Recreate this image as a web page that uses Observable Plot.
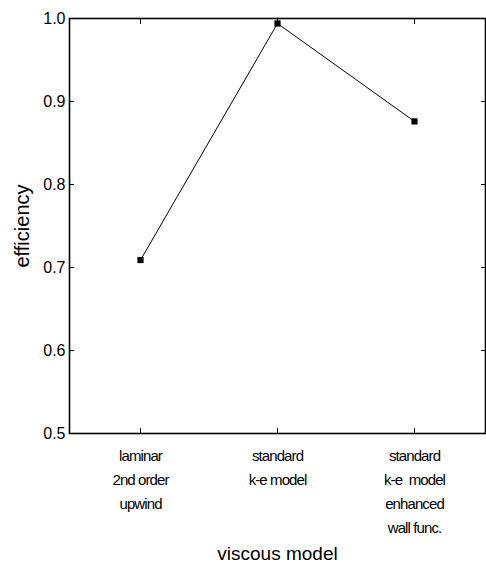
<!DOCTYPE html>
<html><head><meta charset="utf-8">
<script src="https://cdn.jsdelivr.net/npm/d3@7"></script>
<script src="https://cdn.jsdelivr.net/npm/@observablehq/plot@0.6"></script>
<style>
body{margin:0;background:#fff}
svg{font-family:"Liberation Sans",Arial,sans-serif}
g[aria-label="x-axis tick label"]{letter-spacing:-0.9px}
g[aria-label="x-title"]{letter-spacing:-0.8px}
</style>
</head><body><div id="chart"></div>
<script>
const categories = ["laminar\n2nd order\nupwind", "standard\nk-e model", "standard\nk-e  model\nenhanced\nwall func."];
const efficiency = [0.709, 0.994, 0.876];
const yTicks = [0.5, 0.6, 0.7, 0.8, 0.9, 1.0];
const yLabel = "efficiency";
const xLabel = "viscous model";

const data = categories.map((c, i) => ({model: c, efficiency: efficiency[i]}));

const plot = Plot.plot({
  width: 486, height: 569,
  marginLeft: 69, marginRight: 1, marginTop: 18, marginBottom: 136,
  style: {background: "#fff", color: "#000"},
  x: {type: "point", domain: categories, padding: 0.51},
  y: {domain: [0.5, 1.0]},
  marks: [
    Plot.frame({stroke: "#000", strokeWidth: 1.6}),
    Plot.axisY(yTicks, {anchor: "left", tickSize: -5, tickPadding: 9, tickFormat: d3.format(".1f"), fontSize: 16, label: null}),
    Plot.axisY(yTicks, {anchor: "right", tickSize: -5, tickFormat: () => "", label: null}),
    Plot.axisX({anchor: "bottom", tickSize: -5, tickPadding: 15, fontSize: 15, lineHeight: 1.6, label: null}),
    Plot.axisX({anchor: "top", tickSize: -5, tickFormat: () => "", label: null}),
    Plot.text([yLabel], {text: d => d, frameAnchor: "left", textAnchor: "middle", dx: -47, rotate: -90, fontSize: 20}),
    Plot.text([xLabel], {text: d => d, frameAnchor: "bottom", dy: 126, fontSize: 19, ariaLabel: "x-title"}),
    Plot.line(data, {x: "model", y: "efficiency", stroke: "#000", strokeWidth: 1}),
    Plot.dot(data, {x: "model", y: "efficiency", symbol: "square", fill: "#000", r: 3.5})
  ]
});
document.getElementById("chart").appendChild(plot);
</script>
</body></html>
